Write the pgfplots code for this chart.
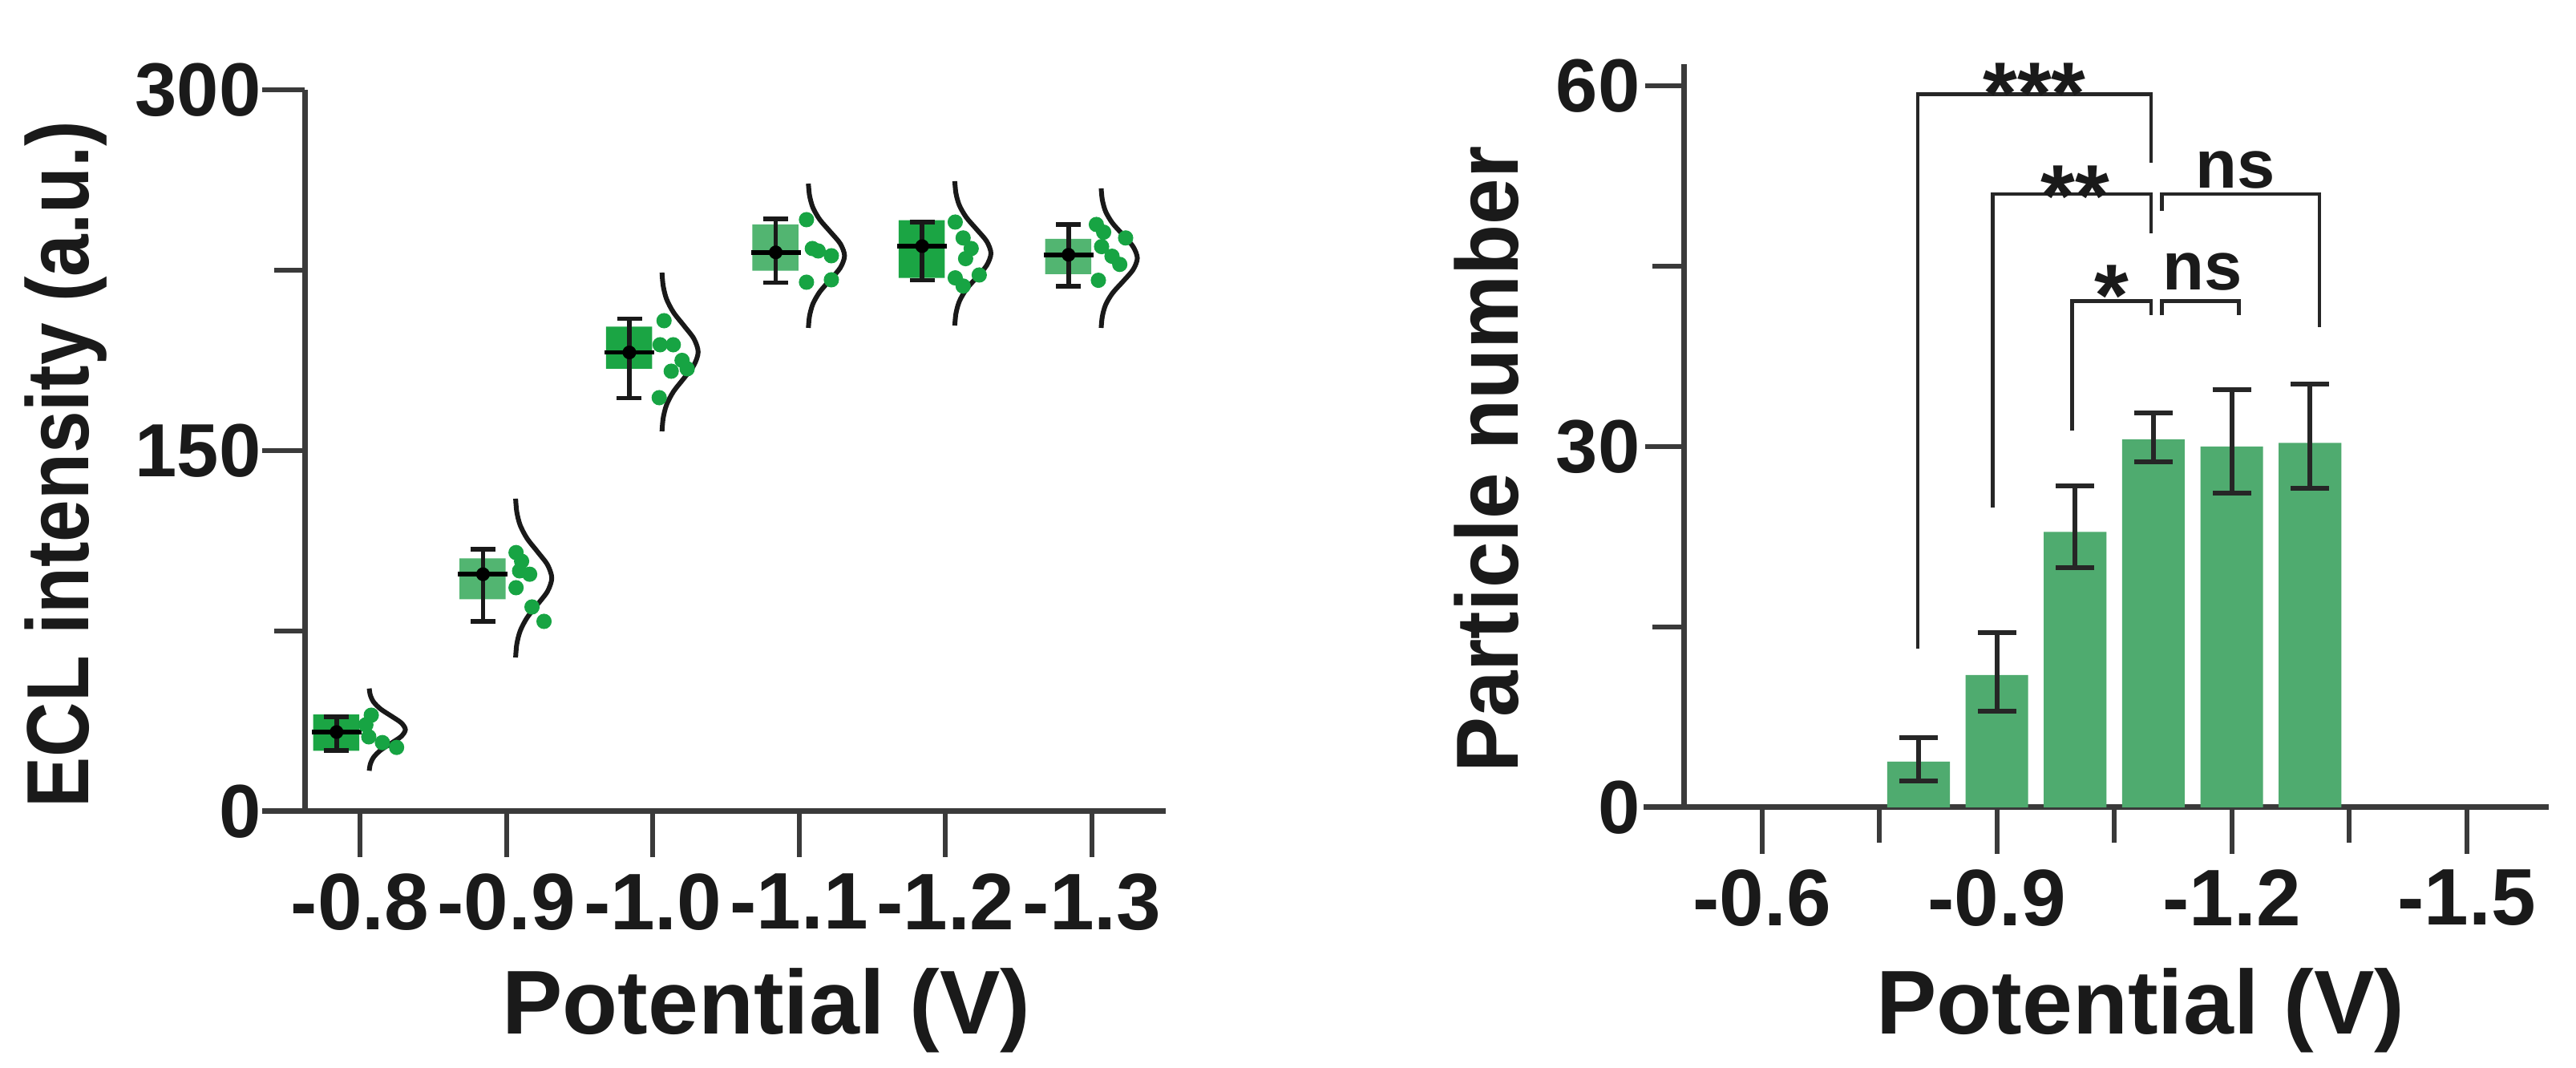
\documentclass[border=0pt]{standalone}
\usepackage{pgfplots}
\pgfplotsset{compat=1.18}
\usepackage{fontspec}
\setmainfont{Liberation Sans}
\definecolor{darkbox}{HTML}{1BA544}
\definecolor{lightbox}{HTML}{52B571}
\definecolor{dotcol}{HTML}{17A443}
\definecolor{barcol}{HTML}{4FAB6F}
\definecolor{axisgray}{HTML}{3A3A3A}
\definecolor{txt}{HTML}{1A1A1A}
\pgfplotsset{
  common/.style={
    scale only axis, clip=false,
    axis x line*=bottom, axis y line*=left,
    axis line style={-, line width=0.7pt, color=axisgray},
    tick align=outside,
    tick style={line width=0.6pt, color=axisgray},
    xticklabel style={font=\bfseries\fontsize{10}{10}\selectfont, text=txt},
    yticklabel style={font=\bfseries\fontsize{9.4}{9.4}\selectfont, text=txt, inner xsep=1pt},
  },
  curve/.style={black!90, line width=0.6pt, smooth, no marks},
  dots/.style={only marks, mark=*, mark size=0.75pt, dotcol, mark options={draw=none, fill=dotcol}},
}
\begin{document}
\begin{tikzpicture}
\path[use as bounding box] (0,0) rectangle (321.3pt,133.2pt);
% ---------------- left panel ----------------
\begin{axis}[common,
  width=107.4pt, height=90pt, at={(91.7pt,77.0pt)}, anchor=center,
  xmin=-0.378, xmax=5.504, ymin=0, ymax=300,
  xtick={0,1,2,3,4,5}, xticklabels={-0.8,-0.9,-1.0,-1.1,-1.2,-1.3},
  ytick={0,150,300}, yticklabels={0,150,300}, minor ytick={75,225},
  xtick style={/pgfplots/major tick length=5.7pt},
  ytick style={/pgfplots/major tick length=5.3pt, /pgfplots/minor tick length=3.8pt},
]
% boxes
\addplot[fill=darkbox, draw=none] coordinates {(-0.32,25.2) (-0.005,25.2) (-0.005,40.3) (-0.32,40.3) (-0.32,25.2)};
\addplot[fill=lightbox, draw=none] coordinates {(0.68,88.2) (0.995,88.2) (0.995,105.2) (0.68,105.2) (0.68,88.2)};
\addplot[fill=darkbox, draw=none] coordinates {(1.68,184) (1.995,184) (1.995,201.5) (1.68,201.5) (1.68,184)};
\addplot[fill=lightbox, draw=none] coordinates {(2.68,224.8) (2.995,224.8) (2.995,244) (2.68,244) (2.68,224.8)};
\addplot[fill=darkbox, draw=none] coordinates {(3.68,221.8) (3.995,221.8) (3.995,245.8) (3.68,245.8) (3.68,221.8)};
\addplot[fill=lightbox, draw=none] coordinates {(4.68,223.4) (4.995,223.4) (4.995,238) (4.68,238) (4.68,223.4)};
% dots
\addplot[dots] coordinates {(0.077,40) (0.153,28.6) (0.25,26.6) (0.04,36) (0.06,31)};
\addplot[dots] coordinates {(1.066,107.6) (1.104,104) (1.066,93) (1.159,98.6) (1.175,85) (1.257,79) (1.09,100)};
\addplot[dots] coordinates {(2.077,204) (2.05,194) (2.14,194) (2.2,187.5) (2.126,183) (2.044,172) (2.235,184)};
\addplot[dots] coordinates {(3.05,246) (3.09,234) (3.13,233) (3.05,220) (3.22,231) (3.22,221)};
\addplot[dots] coordinates {(4.066,245) (4.12,238.4) (4.175,234) (4.137,229.8) (4.066,221.8) (4.23,223) (4.12,218.4)};
\addplot[dots] coordinates {(5.03,244) (5.08,240.8) (5.23,238.4) (5.066,234.8) (5.137,230.8) (5.19,227.4) (5.044,220.8)};
% median lines
\addplot[black, line width=0.55pt] coordinates {(-0.33,33) (0.01,33)};
\addplot[black, line width=0.55pt] coordinates {(0.67,98.6) (1.01,98.6)};
\addplot[black, line width=0.55pt] coordinates {(1.67,190.8) (2.01,190.8)};
\addplot[black, line width=0.55pt] coordinates {(2.67,232.4) (3.01,232.4)};
\addplot[black, line width=0.55pt] coordinates {(3.67,235) (4.01,235)};
\addplot[black, line width=0.55pt] coordinates {(4.67,231.4) (5.01,231.4)};
% whiskers and mean dots
\addplot[black, only marks, mark=*, mark size=0.65pt,
  error bars/.cd, y dir=both, y explicit,
  error bar style={line width=0.55pt, black!90},
  error mark options={rotate=90, mark size=1.55pt, line width=0.55pt, black!90}]
  table[x=x, y=y, y error plus=ep, y error minus=em] {
x       y      ep    em
-0.16   33     6.3   7.7
0.84    98.6   10.4  19.6
1.84    190.8  14.0  19.0
2.84    232.4  14.0  12.6
3.84    235    10.0  14.2
4.84    231.4  12.6  13.0
};
% distribution curves
\addplot[curve] coordinates {(0.063,16.9) (0.071,19.75) (0.094,22.6) (0.141,25.45) (0.212,28.3) (0.281,31.15) (0.31,34) (0.281,36.85) (0.212,39.7) (0.141,42.55) (0.094,45.4) (0.071,48.25) (0.063,51.1)};
\addplot[curve] coordinates {(1.063,64) (1.071,69.5) (1.094,75) (1.141,80.5) (1.212,86) (1.281,91.5) (1.31,97) (1.281,102.5) (1.212,108) (1.141,113.5) (1.094,119) (1.071,124.5) (1.063,130)};
\addplot[curve] coordinates {(2.063,158) (2.071,163.5) (2.094,169) (2.141,174.5) (2.212,180) (2.281,185.5) (2.31,191) (2.281,196.5) (2.212,202) (2.141,207.5) (2.094,213) (2.071,218.5) (2.063,224)};
\addplot[curve] coordinates {(3.063,201) (3.071,206) (3.094,211) (3.141,216) (3.212,221) (3.281,226) (3.31,231) (3.281,236) (3.212,241) (3.141,246) (3.094,251) (3.071,256) (3.063,261)};
\addplot[curve] coordinates {(4.063,202) (4.071,207) (4.094,212) (4.141,217) (4.212,222) (4.281,227) (4.31,232) (4.281,237) (4.212,242) (4.141,247) (4.094,252) (4.071,257) (4.063,262)};
\addplot[curve] coordinates {(5.063,201) (5.071,205.8) (5.094,210.7) (5.141,215.5) (5.212,220.3) (5.281,225.2) (5.31,230) (5.281,234.8) (5.212,239.7) (5.141,244.5) (5.094,249.3) (5.071,254.2) (5.063,259)};
\draw[axisgray, line width=0.7pt] (axis cs:-0.378,0) -- (axis cs:-0.668,0);
\end{axis}
% ---------------- right panel ----------------
\begin{axis}[common,
  width=107.9pt, height=92.7pt, at={(263.95pt,78.85pt)}, anchor=center,
  xmin=0.5, xmax=1.605, ymin=0, ymax=61.8,
  xtick={0.6,0.9,1.2,1.5}, xticklabels={-0.6,-0.9,-1.2,-1.5},
  minor xtick={0.75,1.05,1.35},
  ytick={0,30,60}, yticklabels={0,30,60}, minor ytick={15,45},
  xtick style={/pgfplots/major tick length=5.8pt, /pgfplots/minor tick length=4.4pt},
  ytick style={/pgfplots/major tick length=4.8pt, /pgfplots/minor tick length=3.9pt},
]
\addplot[ybar, bar width=0.08, fill=barcol, draw=none,
  error bars/.cd, y dir=both, y explicit,
  error bar style={line width=0.6pt, black!85},
  error mark options={rotate=90, mark size=2.4pt, line width=0.6pt, black!85}]
  table[x=x, y=y, y error plus=ep, y error minus=em] {
x    y     ep    em
0.8  3.8   2.0   1.6
0.9  11.0  3.5   3.0
1.0  22.9  3.8   3.0
1.1  30.6  2.2   1.9
1.2  30.0  4.7   3.9
1.3  30.3  4.9   3.8
};
% significance brackets
\addplot[black!85, line width=0.45pt] coordinates {(0.799,13.2) (0.799,59.3) (1.097,59.3) (1.097,53.6)};
\addplot[black!85, line width=0.45pt] coordinates {(0.895,24.9) (0.895,51.0) (1.097,51.0) (1.097,47.7)};
\addplot[black!85, line width=0.45pt] coordinates {(1.111,49.6) (1.111,51.0) (1.312,51.0) (1.312,39.9)};
\addplot[black!85, line width=0.45pt] coordinates {(0.996,31.3) (0.996,42.1) (1.097,42.1) (1.097,40.9)};
\addplot[black!85, line width=0.45pt] coordinates {(1.111,40.9) (1.111,42.1) (1.209,42.1) (1.209,40.9)};
\node[anchor=base, text=txt, font=\bfseries\fontsize{11}{11}\selectfont] at (axis cs:0.948,56.8) {***};
\node[anchor=base, text=txt, font=\bfseries\fontsize{11}{11}\selectfont] at (axis cs:1.0,48.3) {**};
\node[anchor=base, text=txt, font=\bfseries\fontsize{11}{11}\selectfont] at (axis cs:1.047,40.0) {*};
\node[anchor=base, text=txt, font=\bfseries\fontsize{8.5}{8.5}\selectfont] at (axis cs:1.205,51.5) {ns};
\node[anchor=base, text=txt, font=\bfseries\fontsize{8.5}{8.5}\selectfont] at (axis cs:1.163,43.0) {ns};
\draw[axisgray, line width=0.7pt] (axis cs:0.5,0) -- (axis cs:0.4488,0);
\end{axis}
% axis labels
\node[text=txt, font=\bfseries\fontsize{11.3}{11.3}\selectfont] at (95.6pt,7.2pt) {Potential (V)};
\node[text=txt, font=\bfseries\fontsize{11.3}{11.3}\selectfont] at (267.0pt,7.2pt) {Potential (V)};
\node[rotate=90, text=txt, font=\bfseries\fontsize{11}{11}\selectfont] at (8.2pt,75.3pt) {\scalebox{0.86}[1]{ECL intensity (a.u.)}};
\node[rotate=90, text=txt, font=\bfseries\fontsize{11}{11}\selectfont] at (185.4pt,75.9pt) {\scalebox{0.94}[1]{Particle number}};
\end{tikzpicture}
\end{document}
